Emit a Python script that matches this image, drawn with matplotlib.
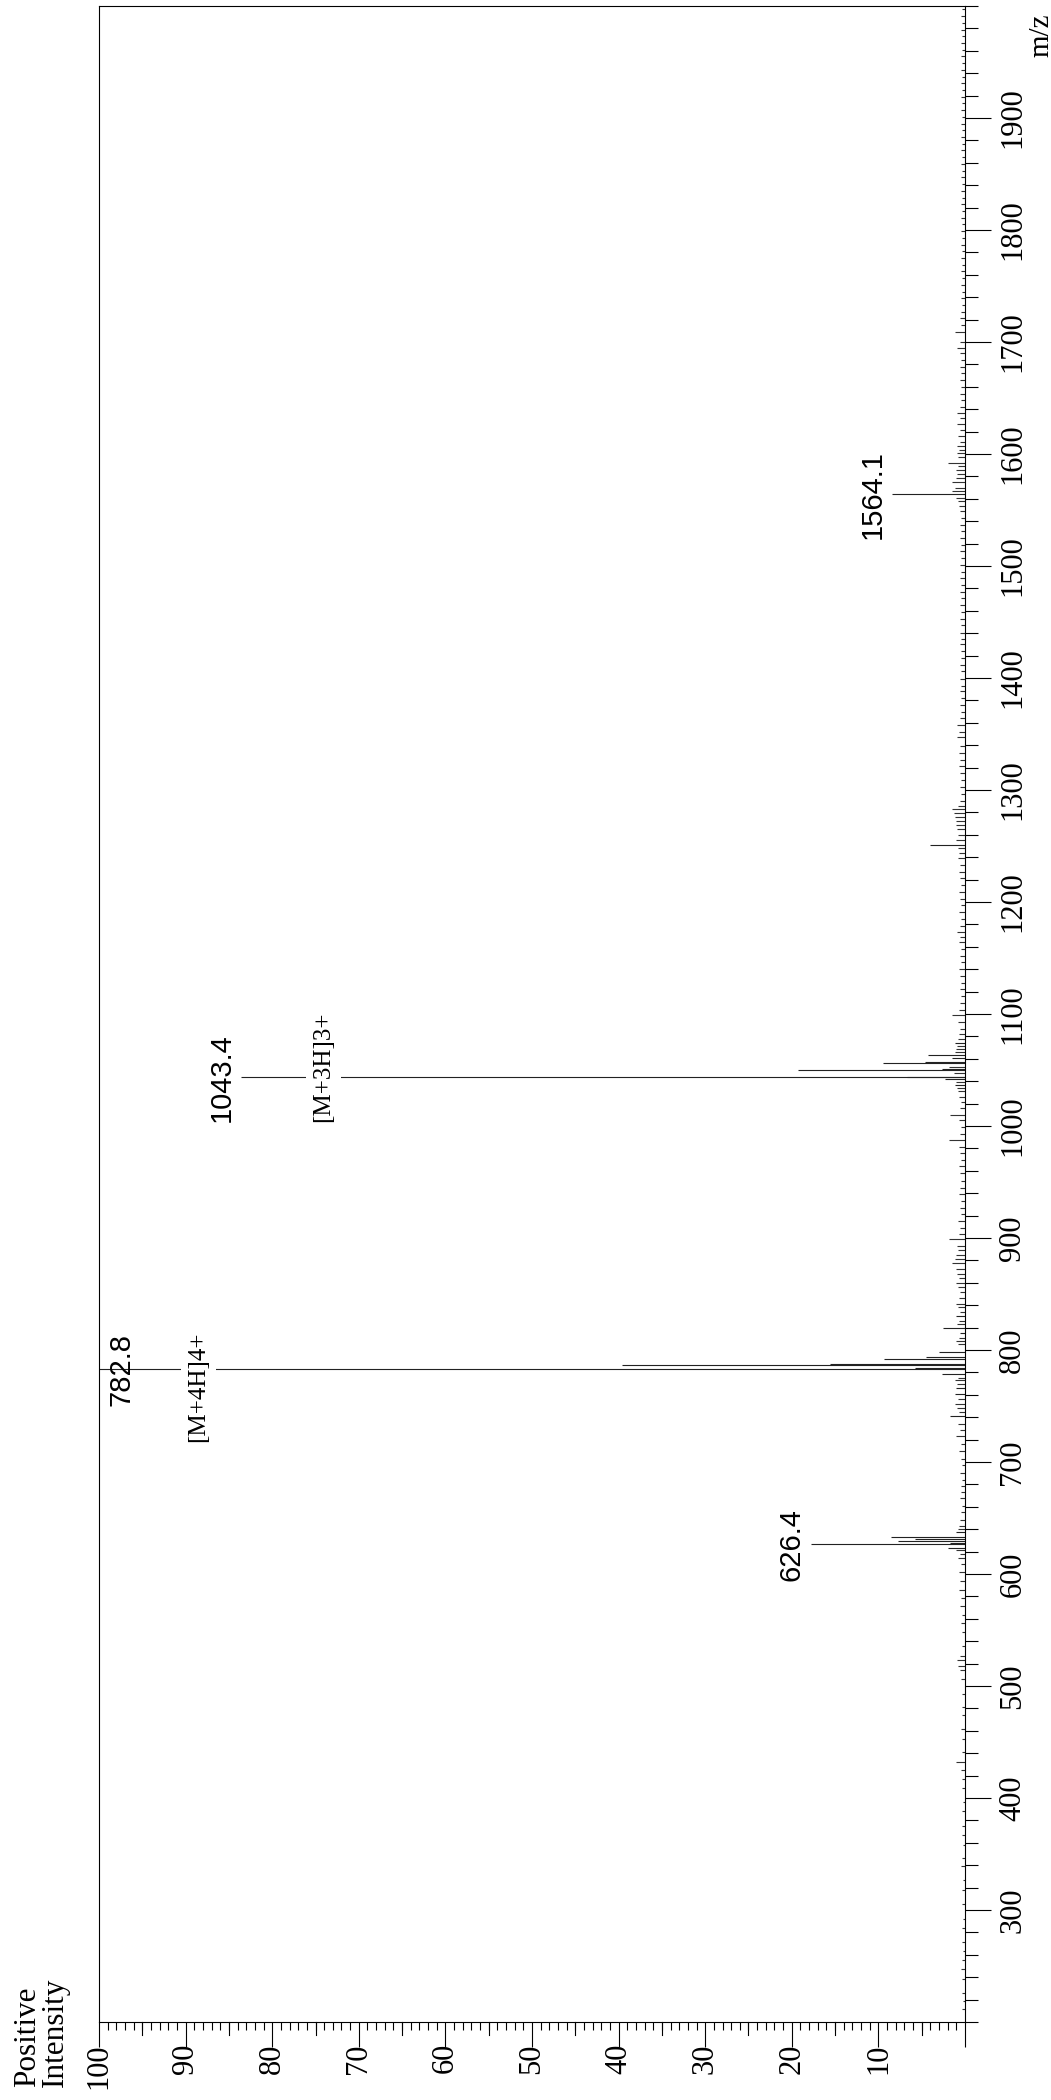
import numpy as np
import matplotlib
matplotlib.use("Agg")
import matplotlib.pyplot as plt
from matplotlib.ticker import MultipleLocator, FixedLocator
from matplotlib.transforms import blended_transform_factory

# main peaks (m/z, relative intensity %)
peak_mz = [623.0, 626.4, 627.7, 629.5, 631.3, 633.0, 637.5,
           741.0, 760.7, 766.0, 778.6, 782.8, 784.0, 786.6, 787.5, 791.7,
           793.8, 798.2, 815.0, 819.6, 830.0,
           1036.6, 1042.0, 1043.4, 1044.0, 1050.0, 1051.0, 1056.0, 1057.0,
           1060.7, 1063.4, 1074.0,
           1251.0, 1564.1]
peak_int = [2.0, 17.8, 1.7, 7.7, 5.8, 8.5, 1.0,
            1.7, 1.2, 1.0, 2.7, 100.0, 5.8, 39.6, 15.6, 9.4,
            4.5, 3.0, 0.6, 2.5, 1.0,
            1.2, 2.3, 83.6, 6.7, 19.3, 2.6, 9.5, 4.6,
            1.5, 4.3, 1.2,
            4.0, 8.4]

# small baseline peaks
noise_mz = [212, 219, 226, 238, 247, 255, 263, 271, 284, 292, 305, 318, 327,
            339, 346, 358, 367, 375, 388, 396, 409, 417, 425, 432, 441, 453,
            462, 474, 481, 493, 506, 514, 518, 523, 527, 536, 548, 556, 563,
            571, 579, 586, 594, 602, 609, 614, 618, 621, 640, 643, 648, 655,
            661, 668, 673, 678.6, 684, 690, 697, 703, 710, 716, 723, 729, 734,
            745, 748, 752, 756, 770, 773, 775, 805, 808, 811, 823, 826, 834,
            838, 841, 846, 852, 856, 860, 864, 868, 872, 877.6, 881, 885, 889,
            893, 899, 904, 909, 915, 921, 927, 933, 939, 945, 951, 958, 964,
            970, 976, 981, 987.5, 993, 999, 1005, 1010, 1016, 1021, 1026,
            1031, 1034, 1039, 1047, 1053, 1066, 1069, 1071, 1078, 1082, 1087,
            1093, 1099, 1104, 1110, 1116, 1122, 1128, 1134, 1140, 1146, 1152,
            1158, 1164, 1169, 1173, 1179, 1185, 1191, 1197, 1203, 1209, 1215,
            1221, 1227, 1233, 1239, 1244, 1248, 1255.6, 1260, 1265, 1269,
            1272, 1276, 1279.5, 1282.6, 1286, 1290, 1296, 1303, 1309, 1315,
            1321, 1327, 1333, 1339, 1347, 1352, 1358, 1364, 1370, 1376, 1382,
            1388, 1393, 1399, 1406, 1412, 1418, 1424, 1430, 1435, 1440, 1447,
            1453, 1459, 1465, 1471, 1477, 1483, 1489, 1495, 1501, 1507, 1513,
            1519, 1525, 1531, 1537, 1543, 1549, 1554, 1558, 1561, 1567, 1570,
            1575, 1579, 1582, 1585.7, 1589, 1592, 1597, 1601, 1604, 1607, 1611,
            1616, 1621, 1627, 1632, 1637, 1642, 1648, 1654, 1660, 1666, 1672,
            1678, 1684, 1690, 1695, 1700, 1709, 1715, 1721, 1727, 1733, 1739,
            1745, 1751, 1757, 1763, 1769, 1775, 1781, 1787, 1793, 1799, 1805,
            1811, 1817, 1823, 1829, 1835, 1841, 1847, 1853, 1859, 1865, 1871,
            1877, 1883, 1889, 1895, 1901, 1907, 1913, 1919, 1925, 1931, 1937,
            1943, 1949, 1955, 1961, 1967, 1973, 1979, 1985, 1991, 1997]
noise_int = [0.3, 0.2, 0.4, 0.3, 0.5, 0.3, 0.2, 0.4, 0.3, 0.2, 0.4, 0.3, 0.2,
             0.5, 0.3, 0.2, 0.4, 0.3, 0.3, 0.2, 0.4, 0.3, 0.5, 1.0, 0.4, 0.3,
             0.5, 0.3, 0.4, 0.3, 0.5, 0.6, 0.8, 0.9, 0.6, 0.4, 0.3, 0.5, 0.4,
             0.6, 0.5, 0.7, 0.6, 0.7, 0.5, 0.8, 0.6, 1.0, 0.8, 0.7, 0.6, 0.5,
             0.4, 0.6, 0.5, 0.5, 0.4, 0.6, 0.4, 0.5, 0.7, 0.5, 1.0, 0.6, 0.8,
             0.7, 0.9, 1.1, 0.8, 0.9, 1.2, 0.8, 0.8, 1.0, 0.7, 0.9, 0.7, 0.6,
             0.8, 1.0, 0.7, 0.6, 0.8, 1.0, 0.7, 0.9, 1.0, 1.5, 1.1, 1.0, 0.8,
             0.9, 1.8, 0.7, 0.6, 0.8, 0.5, 0.6, 0.5, 0.7, 0.6, 0.5, 0.6, 0.7,
             0.5, 0.6, 0.7, 1.8, 0.6, 0.5, 0.7, 1.7, 0.6, 0.5, 0.7,
             0.8, 0.9, 1.0, 1.3, 1.8, 1.2, 1.0, 0.9, 0.8, 0.7, 0.6,
             0.8, 1.5, 0.7, 0.6, 0.5, 0.6, 0.5, 0.6, 0.7, 0.5, 0.6,
             0.5, 0.7, 0.6, 0.9, 0.6, 0.5, 0.7, 0.5, 0.6, 0.7, 0.5,
             0.6, 0.7, 0.6, 0.8, 0.7, 0.8, 1.0, 0.8, 0.9, 1.0,
             1.0, 1.1, 1.3, 1.5, 0.8, 0.6, 0.5, 0.6, 0.5, 0.6,
             0.7, 0.6, 0.7, 0.6, 0.9, 0.7, 0.9, 0.6, 0.5, 0.6, 0.5,
             0.6, 0.5, 0.6, 0.5, 0.6, 0.5, 0.5, 0.6, 0.5, 0.6, 0.5,
             0.6, 0.5, 0.6, 0.5, 0.6, 0.5, 0.6, 0.5, 0.6, 0.5, 0.6,
             0.5, 0.6, 0.5, 0.6, 0.5, 0.6, 0.7, 0.8, 1.0, 1.5, 1.2,
             1.5, 1.0, 0.9, 1.0, 0.8, 2.0, 0.8, 0.9, 0.7, 0.9, 0.6,
             0.8, 0.6, 0.9, 0.6, 0.9, 0.6, 0.5, 0.6, 0.5, 0.6, 0.5,
             0.6, 0.5, 0.6, 0.9, 0.6, 1.1, 0.5, 0.6, 0.5, 0.4, 0.5,
             0.4, 0.5, 0.4, 0.5, 0.4, 0.5, 0.4, 0.5, 0.4, 0.5, 0.4,
             0.5, 0.4, 0.5, 0.4, 0.5, 0.4, 0.5, 0.4, 0.5, 0.4, 0.5,
             0.4, 0.5, 0.4, 0.5, 0.4, 0.5, 0.4, 0.5, 0.4, 0.5, 0.4,
             0.5, 0.4, 0.5, 0.4, 0.5, 0.4, 0.5, 0.4, 0.5, 0.4]

# labelled peaks
label_mz = [626.4, 782.8, 1043.4, 1564.1]
label_text = ["626.4", "782.8", "1043.4", "1564.1"]
ion_text = ["[M+4H]4+", "[M+3H]3+"]
ion_mz = [767.0, 1052.7]
ion_int = [88.5, 74.1]

plt.rcParams["font.family"] = "Liberation Serif"
SANS = "Liberation Sans"

W, H = 1051, 2100
fig = plt.figure(figsize=(W / 100, H / 100), dpi=100)
ax = fig.add_axes([99 / W, 1 - 2022 / H, (965 - 99) / W, (2022 - 6) / H])

n = min(len(noise_mz), len(noise_int))
ax.hlines(noise_mz[:n], 0, noise_int[:n], color="#333333", lw=0.8)
ax.hlines(peak_mz, 0, peak_int, color="#222222", lw=0.8)

ax.set_xlim(100, 0)
ax.set_ylim(200, 2000)

# intensity axis (bottom), labels rotated like the rest of the chart
ax.xaxis.set_major_locator(MultipleLocator(10))
ax.xaxis.set_minor_locator(MultipleLocator(1))
ax.set_xticklabels([])
ax.tick_params(axis="x", which="major", direction="out", length=18,
               width=0.8, pad=2)
ax.tick_params(axis="x", which="minor", direction="out", length=6, width=0.8)
trans = blended_transform_factory(ax.transData, ax.transAxes)
for v in range(10, 101, 10):
    ax.text(v, -0.0105, str(v), transform=trans, rotation=90,
            ha="center", va="top", fontsize=22)
for v in range(5, 100, 10):
    ax.plot([v, v], [0, -0.0064], transform=trans, color="black", lw=0.8,
            clip_on=False)

# m/z axis (right)
ax.yaxis.tick_right()
ax.yaxis.set_major_locator(FixedLocator(range(300, 2000, 100)))
ax.yaxis.set_minor_locator(MultipleLocator(20))
ax.tick_params(axis="y", which="major", direction="out", length=19,
               width=0.8, pad=5, labelsize=22, labelrotation=90)
ax.tick_params(axis="y", which="minor", direction="out", length=9, width=0.8)
for t in ax.get_yticklabels():
    t.set_va("center")

for s in ax.spines.values():
    s.set_linewidth(0.8)

# peak labels
for mz, txt in zip(label_mz, label_text):
    inten = peak_int[peak_mz.index(mz)]
    if inten > 95:
        ax.annotate(txt, (100, mz), xytext=(16.5, 0), textcoords="offset points",
                    rotation=90, ha="center", va="center", fontsize=21,
                    family=SANS)
    else:
        ax.annotate(txt, (inten, mz), xytext=(-14, 0), textcoords="offset points",
                    rotation=90, ha="center", va="center", fontsize=21,
                    family=SANS)

for txt, mz, v in zip(ion_text, ion_mz, ion_int):
    ax.text(v, mz, txt, rotation=90, ha="center", va="center", fontsize=18,
            bbox=dict(boxstyle="square,pad=0.25", fc="white", ec="none"))

fig.text(13 / W, 1 - 2087 / H, "Positive\nIntensity", rotation=90,
         ha="left", va="bottom", fontsize=22.5,
         linespacing=0.95, multialignment="left")
fig.text(1041 / W, 1 - 35 / H, "m/z", rotation=90, ha="center", va="center",
         fontsize=21)

fig.savefig("out.png", dpi=100)
